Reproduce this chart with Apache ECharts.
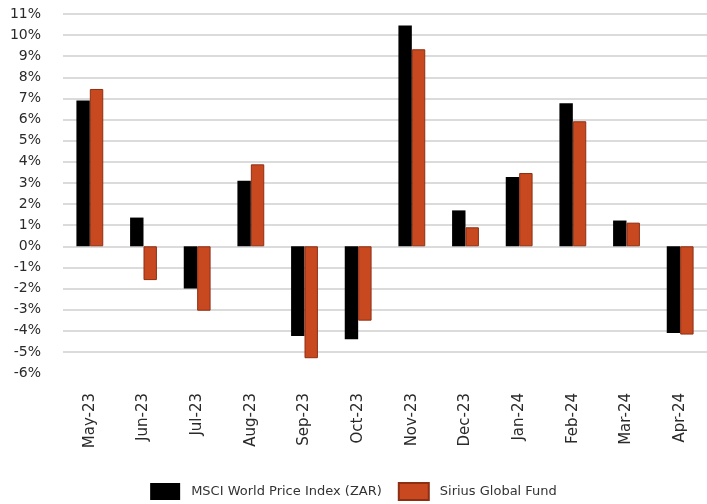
<!DOCTYPE html>
<html>
<head>
    <meta charset="utf-8">
    <title>MSCI vs Sirius</title>
    <script src="https://cdn.jsdelivr.net/npm/echarts@6/dist/echarts.min.js"></script>
    <style>
        html,body{margin:0;padding:0;background:#fff;}
        #main{width:707px;height:504px;}
    </style>
</head>
<body>
<div id="main"></div>
<script type="text/javascript">
    // monthly returns, %
    var months = ['May-23','Jun-23','Jul-23','Aug-23','Sep-23','Oct-23','Nov-23','Dec-23','Jan-24','Feb-24','Mar-24','Apr-24'];
    var msci   = [6.9, 1.36, -2.0, 3.1, -4.25, -4.4, 10.45, 1.7, 3.28, 6.77, 1.22, -4.1];
    var sirius = [7.45, -1.6, -3.05, 3.88, -5.3, -3.52, 9.33, 0.9, 3.47, 5.92, 1.12, -4.18];
    var yTicks = {min: -6, max: 11, step: 1};

    // first (bottom, -6%) gridline is not drawn in the original
    var gridColors = ['rgba(0,0,0,0)'];
    for (var i = 1; i < 18; i++) gridColors.push('#cfcfcf');

    var myChart = echarts.init(document.getElementById('main'));
    var font = 'DejaVu Sans';
    var option = {
        animation: false,
        textStyle: {fontFamily: font},
        grid: {left: 63, right: -4, top: 14, bottom: 131},
        legend: {
            left: 'center',
            top: 482,
            padding: 0,
            icon: 'rect',
            itemWidth: 30,
            itemHeight: 17,
            itemGap: 16,
            textStyle: {fontFamily: font, fontSize: 13, color: '#333', padding: [0, 0, 0, 6]},
            data: ['MSCI World Price Index (ZAR)', 'Sirius Global Fund']
        },
        xAxis: {
            type: 'category',
            data: months,
            axisLine: {show: false, onZero: false},
            axisTick: {show: false},
            axisLabel: {rotate: 90, margin: 20, fontSize: 15, color: '#2a2a2a', fontFamily: font}
        },
        yAxis: {
            type: 'value',
            min: yTicks.min,
            max: yTicks.max,
            interval: yTicks.step,
            axisLine: {show: false},
            axisTick: {show: false},
            axisLabel: {margin: 22, fontSize: 14, color: '#2a2a2a', fontFamily: font,
                formatter: function (v) { return v + '%'; }},
            splitLine: {lineStyle: {color: gridColors, width: 1.5}}
        },
        series: [
            {
                name: 'MSCI World Price Index (ZAR)',
                type: 'bar',
                data: msci,
                barWidth: '25%',
                barGap: '0%',
                itemStyle: {color: '#000'}
            },
            {
                name: 'Sirius Global Fund',
                type: 'bar',
                data: sirius,
                barWidth: '25%',
                itemStyle: {color: '#c8481f', borderColor: '#8e2f13', borderWidth: 1}
            }
        ]
    };
    myChart.setOption(option);
</script>
</body>
</html>
